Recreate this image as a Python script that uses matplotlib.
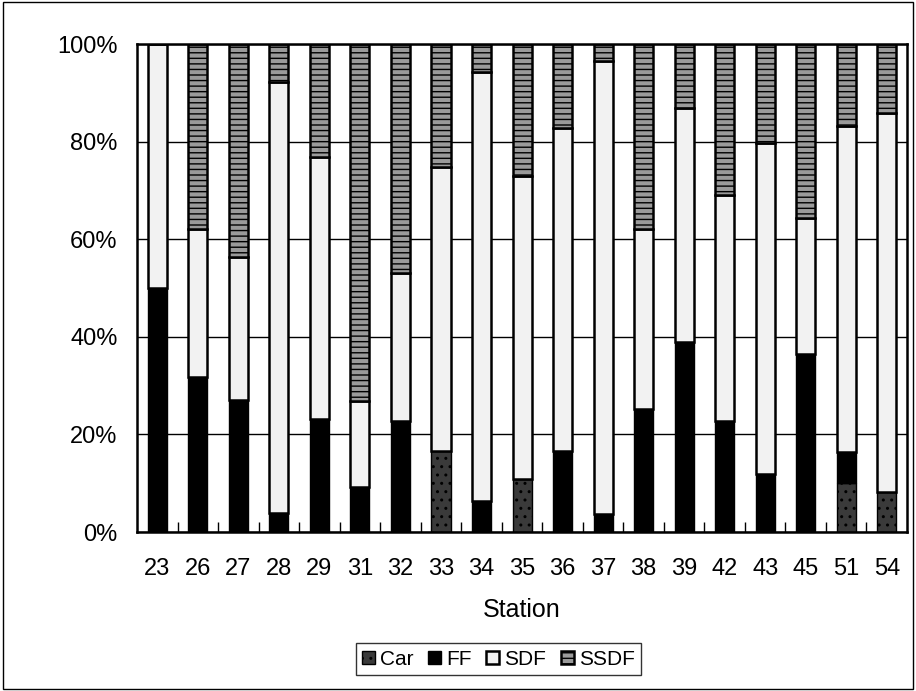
import matplotlib.pyplot as plt
import numpy as np
from matplotlib.ticker import PercentFormatter

plt.rcParams['font.family'] = ['Liberation Sans', 'DejaVu Sans']

stations = ['23', '26', '27', '28', '29', '31', '32', '33', '34', '35',
            '36', '37', '38', '39', '42', '43', '45', '51', '54']
car = [0, 0, 0, 0, 0, 0, 0, 16.7, 0, 10.8,
       0, 0, 0, 0, 0, 0, 0, 10.0, 8.2]
ff = [50.0, 31.7, 27.1, 3.8, 23.2, 9.2, 22.7, 0, 6.3, 0,
      16.5, 3.7, 25.2, 39.0, 22.7, 11.8, 36.5, 6.4, 0]
sdf = [50.0, 30.3, 29.3, 88.4, 53.7, 17.6, 30.4, 58.0, 88.0, 62.1,
       66.2, 92.8, 36.8, 47.9, 46.3, 67.9, 27.9, 66.7, 77.7]
ssdf = [0, 38.0, 43.6, 7.8, 23.1, 73.2, 46.9, 25.3, 5.7, 27.1,
        17.3, 3.5, 38.0, 13.1, 31.0, 20.3, 35.6, 16.9, 14.1]

x = np.arange(len(stations))
w = 0.47

fig = plt.figure(figsize=(9.16, 6.91), dpi=100)
ax = fig.add_axes([0.1496, 0.2301, 0.8406, 0.7062])

b1 = ax.bar(x, car, w, color='#3a3a3a', edgecolor='black', hatch='..', lw=1, label='Car')
b2 = ax.bar(x, ff, w, bottom=car, color='black', edgecolor='black', lw=1, label='FF')
base = np.array(car) + np.array(ff)
b3 = ax.bar(x, sdf, w, bottom=base, color='#f2f2f2', edgecolor='black', lw=1.8, label='SDF')
base = base + np.array(sdf)
b4 = ax.bar(x, ssdf, w, bottom=base, color='#9a9a9a', edgecolor='black', hatch='---', lw=1.8, label='SSDF')

ax.set_xlim(-0.5, 18.5)
ax.set_ylim(0, 100)
ax.set_yticks([0, 20, 40, 60, 80, 100])
ax.yaxis.set_major_formatter(PercentFormatter(decimals=0))
ax.set_xticks(x)
ax.set_xticklabels(stations)
ax.set_xticks(x[:-1] + 0.5, minor=True)
ax.tick_params(axis='x', which='major', length=0, pad=19, labelsize=17)
ax.tick_params(axis='x', which='minor', direction='in', length=7, width=1)
ax.tick_params(axis='y', length=0, labelsize=17, pad=14)
ax.grid(axis='y', color='black', lw=1)
ax.set_axisbelow(True)
for s in ax.spines.values():
    s.set_linewidth(1.8)
ax.set_xlabel('Station', fontsize=18, labelpad=13)

leg = fig.legend(handles=[b1, b2, b3, b4], loc='center', bbox_to_anchor=(0.544, 0.046),
                 ncol=4, fontsize=15, frameon=True, fancybox=False, edgecolor='black',
                 handlelength=0.62, handleheight=0.62, handletextpad=0.25, columnspacing=0.7,
                 borderpad=0.3, borderaxespad=0)
leg.get_frame().set_linewidth(1)

fig.patches.append(plt.Rectangle((0.003, 0.003), 0.994, 0.994, transform=fig.transFigure,
                                 fill=False, edgecolor='black', lw=1))

fig.savefig('out.png', dpi=100)
